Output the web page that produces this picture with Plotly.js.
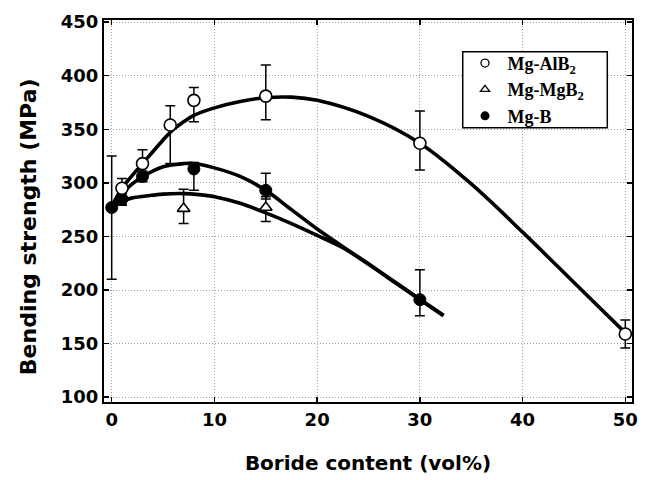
<!DOCTYPE html>
<html>
<head>
<meta charset="utf-8">
<script src="https://cdn.plot.ly/plotly-3.0.1.min.js"></script>
<style>
  html, body { margin: 0; padding: 0; background: #fff; }
  #chart { width: 647px; height: 480px; }
</style>
</head>
<body>
<div id="chart"></div>
<script>
// Measured bending strength (MPa) versus boride content (vol%)
const xAlB2 = [1, 3, 5.7, 8, 15, 30, 50];
const yAlB2 = [295, 318, 354, 377, 381, 337, 159];
const errUpAlB2 = [9, 13, 18, 12, 29, 30, 13];
const errDnAlB2 = [16, 10, 36, 20, 22, 25, 13];

const xMgB2 = [7, 15];
const yMgB2 = [276, 277];
const errUpMgB2 = [18, 10];
const errDnMgB2 = [14, 13];

const xMgB = [0, 1, 3, 8, 15, 30];
const yMgB = [277, 285, 306, 313, 293, 191];
const errUpMgB = [48, 5, 5, 6, 16, 28];
const errDnMgB = [67, 5, 5, 20, 8, 15];

// Hand-drawn trend curves through each series
const fitXAlB2 = [0, 1, 2, 3, 4, 5, 6, 7, 8, 10, 12.5, 15, 17.5, 20, 25, 30, 35, 40, 45, 50];
const fitYAlB2 = [278, 295, 307, 318, 329, 340, 350, 357, 363, 370, 376, 379.5, 380, 377, 362, 337, 299, 254, 207, 160];

const fitXMgB = [0, 1, 2, 3, 4, 5, 6, 7, 8, 10, 12.5, 15, 17.5, 20, 22.5, 25, 27.5, 30, 32.3];
const fitYMgB = [278, 290, 299, 306, 311, 315, 317, 318, 318, 314, 306, 293, 275, 257, 240.5, 224.5, 208, 191.5, 176.5];

const fitXMgB2 = [0, 1, 2, 3.5, 5, 7, 8.5, 10, 12.5, 15, 17.5, 20, 22.5, 25, 27.5, 30, 32.3];
const fitYMgB2 = [278, 283, 286, 288, 289.5, 290, 289, 287, 281, 272, 262, 251, 239.5, 224, 207.5, 191, 176];

const legendNames = ['Mg-AlB<sub>2</sub>', 'Mg-MgB<sub>2</sub>', 'Mg-B'];
const xTitle = 'Boride content (vol%)';
const yTitle = 'Bending strength (MPa)';

const ink = '#000';

function curve(x, y) {
  return {
    x: x, y: y, type: 'scatter', mode: 'lines',
    line: { color: ink, width: 3.6, shape: 'spline', smoothing: 1 },
    showlegend: false, hoverinfo: 'skip'
  };
}

function errs(up, dn) {
  return {
    type: 'data', symmetric: false, array: up, arrayminus: dn,
    color: ink, thickness: 1.5, width: 5
  };
}

const traces = [
  curve(fitXMgB2, fitYMgB2),
  curve(fitXMgB, fitYMgB),
  curve(fitXAlB2, fitYAlB2),
  {
    x: xMgB, y: yMgB, type: 'scatter', mode: 'markers',
    marker: { symbol: 'circle', size: 12, color: ink, line: { color: ink, width: 1 } },
    error_y: errs(errUpMgB, errDnMgB), showlegend: false
  },
  {
    x: xMgB2, y: yMgB2, type: 'scatter', mode: 'markers',
    marker: { symbol: 'triangle-up', size: 11, color: '#fff', line: { color: ink, width: 1.6 } },
    error_y: errs(errUpMgB2, errDnMgB2), showlegend: false
  },
  {
    x: xAlB2, y: yAlB2, type: 'scatter', mode: 'markers',
    marker: { symbol: 'circle', size: 12, color: '#fff', line: { color: ink, width: 1.6 } },
    error_y: errs(errUpAlB2, errDnAlB2), showlegend: false
  },
  // legend keys
  {
    x: [null], y: [null], type: 'scatter', mode: 'markers', name: legendNames[0],
    marker: { symbol: 'circle', size: 8, color: '#fff', line: { color: ink, width: 1.3 } }
  },
  {
    x: [null], y: [null], type: 'scatter', mode: 'markers', name: legendNames[1],
    marker: { symbol: 'triangle-up', size: 8, color: '#fff', line: { color: ink, width: 1.3 } }
  },
  {
    x: [null], y: [null], type: 'scatter', mode: 'markers', name: legendNames[2],
    marker: { symbol: 'circle', size: 9, color: ink }
  }
];

const sansBold = { family: 'DejaVu Sans, Arial, sans-serif', weight: 'bold', color: ink };

const axisBase = {
  showline: true, linecolor: ink, linewidth: 2, mirror: 'ticks',
  ticks: 'inside', ticklen: 5, tickwidth: 1.5, tickcolor: ink,
  showgrid: true, gridcolor: '#a0a0a0', gridwidth: 1, griddash: '1px,2px',
  zeroline: false, fixedrange: true
};

const layout = {
  width: 647, height: 480,
  margin: { l: 104, r: 15, t: 20, b: 78 },
  paper_bgcolor: '#fff', plot_bgcolor: '#fff',
  showlegend: true,
  legend: {
    x: 0.679, y: 0.935, xanchor: 'left', yanchor: 'top',
    bgcolor: 'rgba(0,0,0,0)', borderwidth: 0, itemwidth: 35,
    font: { family: 'Liberation Serif, Times New Roman, serif', weight: 'bold', size: 18, color: ink },
    tracegroupgap: 0
  },
  // legend frame
  shapes: [{
    type: 'rect', xref: 'paper', yref: 'paper', layer: 'above',
    x0: 0.6794, x1: 0.9532, y0: 0.7178, y1: 0.917,
    line: { color: ink, width: 1.5 }, fillcolor: '#fff'
  }],
  annotations: [{
    text: yTitle, xref: 'paper', yref: 'paper', x: -0.1439, y: 0.4577,
    xanchor: 'center', yanchor: 'middle', textangle: -90, showarrow: false,
    font: Object.assign({ size: 22 }, sansBold)
  }],
  xaxis: Object.assign({}, axisBase, {
    range: [-0.75, 50.65], tick0: 0, dtick: 10,
    tickfont: Object.assign({ size: 18 }, sansBold),
    title: { text: xTitle, font: Object.assign({ size: 20 }, sansBold), standoff: 27 }
  }),
  yaxis: Object.assign({}, axisBase, {
    range: [95.5, 452], tick0: 100, dtick: 50,
    tickfont: Object.assign({ size: 18 }, sansBold)
  })
};

Plotly.newPlot('chart', traces, layout, { staticPlot: true, displayModeBar: false });
</script>
</body>
</html>
